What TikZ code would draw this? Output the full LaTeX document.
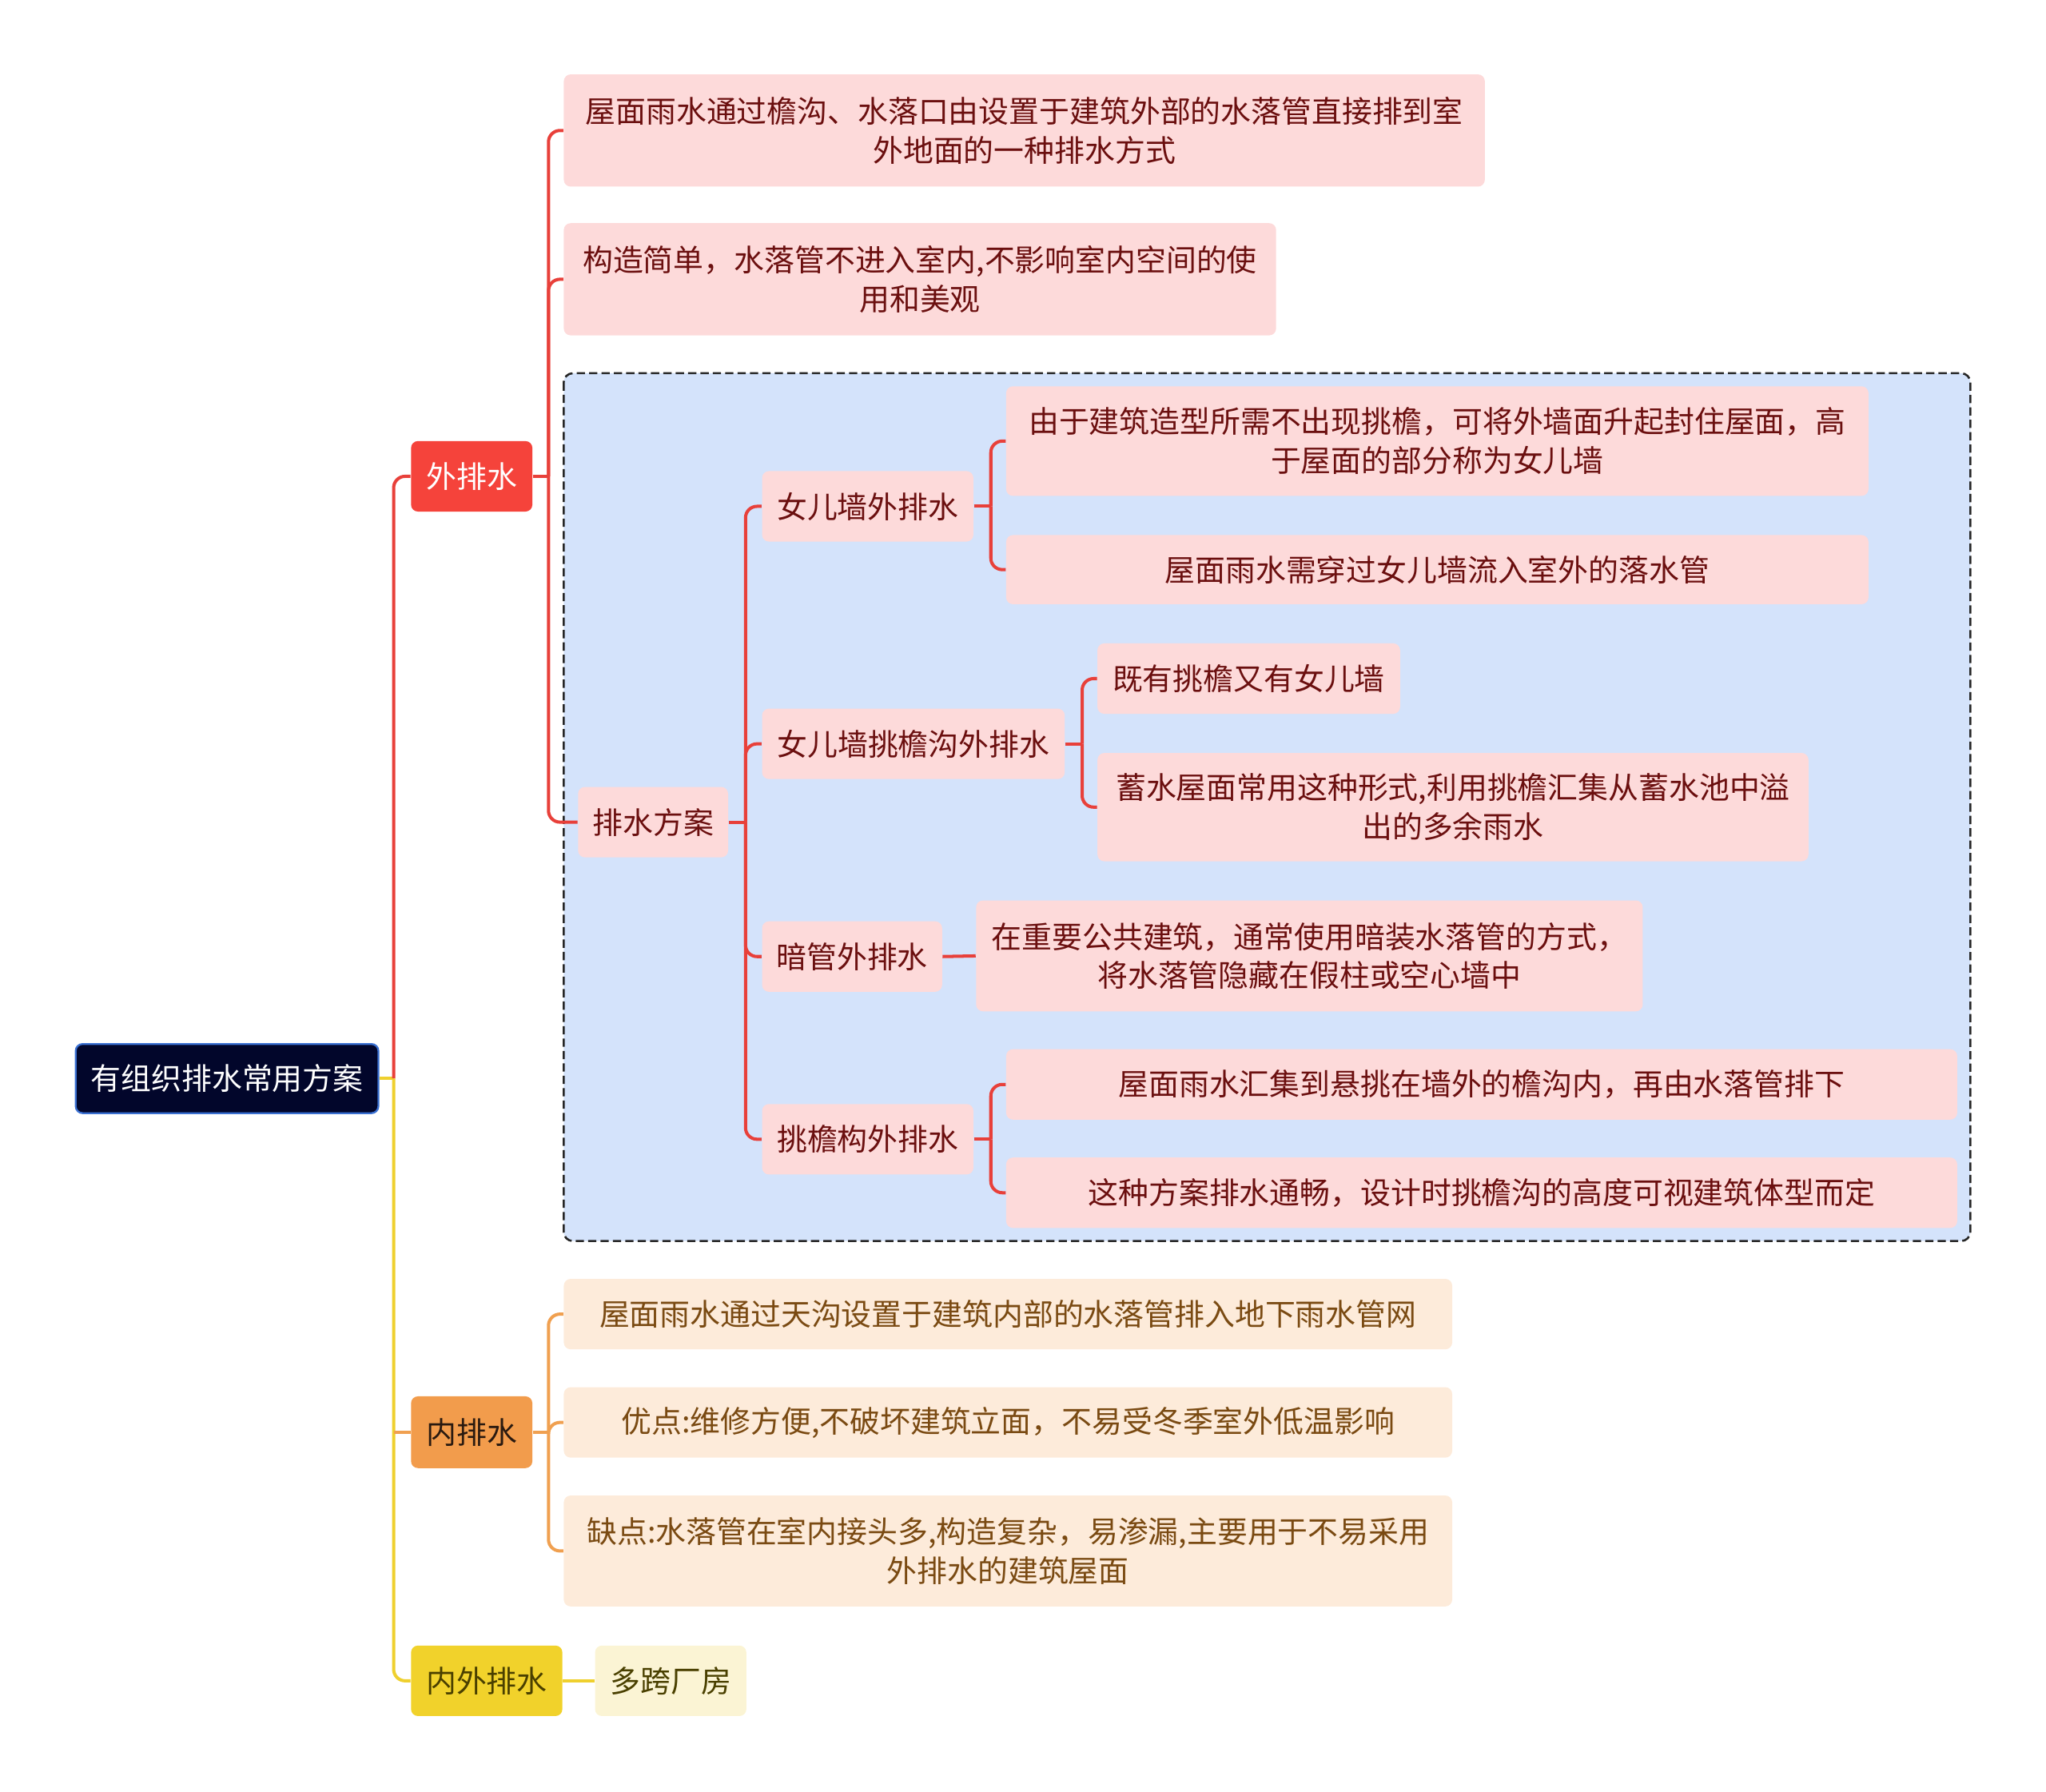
\documentclass[tikz,border=0pt]{standalone}
\usepackage{fontspec}
\setmainfont{Noto Sans CJK SC}
\definecolor{rootfill}{HTML}{02062B}
\definecolor{rootdraw}{HTML}{3A70D2}
\definecolor{redfill}{HTML}{F5433B}
\definecolor{orangefill}{HTML}{F29C4C}
\definecolor{yellowfill}{HTML}{F1D22B}
\definecolor{pinkfill}{HTML}{FDDADA}
\definecolor{peachfill}{HTML}{FDEBDA}
\definecolor{paleyellow}{HTML}{FBF4D4}
\definecolor{regionfill}{HTML}{D4E3FB}
\definecolor{redline}{HTML}{E8403A}
\definecolor{orangeline}{HTML}{F0A050}
\definecolor{yellowline}{HTML}{EFD02E}
\definecolor{redtext}{HTML}{6B0F0F}
\definecolor{browntext}{HTML}{7A4A12}
\definecolor{olivetext}{HTML}{4A4000}
\definecolor{darktext}{HTML}{2A1A10}
\tikzset{
  box/.style={rounded corners=3pt, inner sep=0pt, align=center, minimum height=1.08cm,
    font=\fontsize{13.2pt}{17pt}\selectfont},
  rootbox/.style={box, fill=rootfill, draw=rootdraw, line width=0.8pt, text=white},
  redbox/.style={box, fill=redfill, text=white},
  orangebox/.style={box, fill=orangefill, text=darktext},
  yellowbox/.style={box, fill=yellowfill, text=olivetext},
  pinkleaf/.style={box, fill=pinkfill, text=redtext},
  peachleaf/.style={box, fill=peachfill, text=browntext},
  paleleaf/.style={box, fill=paleyellow, text=olivetext},
  rline/.style={draw=redline, line width=1.4pt, rounded corners=5pt},
  oline/.style={draw=orangeline, line width=1.4pt, rounded corners=5pt},
  yline/.style={draw=yellowline, line width=1.4pt, rounded corners=5pt},
}
\begin{document}
\begin{tikzpicture}[x=0.02cm, y=-0.02cm]
\useasboundingbox (0,0) rectangle (1568,1373);
% dashed frame round the drainage schemes
\draw[fill=regionfill, draw=black!85, line width=0.9pt, dash pattern=on 3.6pt off 1.8pt, rounded corners=4pt]
  (432,286) rectangle (1510,951);

% root and first level
\node[rootbox, minimum width=4.64cm, minimum height=1.06cm] (root) at (174,826.5) {有组织排水常用方案};
\node[redbox, minimum width=1.86cm] (wai) at (361.5,365) {外排水};
\node[orangebox, minimum width=1.86cm, minimum height=1.1cm] (nei) at (361.5,1097.5) {内排水};
\node[yellowbox, minimum width=2.32cm] (neiwai) at (373,1288) {内外排水};

% outer drainage
\node[pinkleaf, minimum width=14.12cm, minimum height=1.72cm] (wdef) at (785,100)
  {屋面雨水通过檐沟、水落口由设置于建筑外部的水落管直接排到室\\外地面的一种排水方式};
\node[pinkleaf, minimum width=10.92cm, minimum height=1.72cm] (wadv) at (705,214)
  {构造简单，水落管不进入室内,不影响室内空间的使\\用和美观};
\node[pinkleaf, minimum width=2.3cm] (fangan) at (500.5,630) {排水方案};

\node[pinkleaf, minimum width=3.24cm] (nverq) at (665,388) {女儿墙外排水};
\node[pinkleaf, minimum width=4.64cm] (tiaogou) at (700,570) {女儿墙挑檐沟外排水};
\node[pinkleaf, minimum width=2.76cm] (anguan) at (653,733) {暗管外排水};
\node[pinkleaf, minimum width=3.24cm] (tiaoyan) at (665,873) {挑檐构外排水};

\node[pinkleaf, minimum width=13.22cm, minimum height=1.68cm] (nverqa) at (1101.5,338)
  {由于建筑造型所需不出现挑檐，可将外墙面升起封住屋面，高\\于屋面的部分称为女儿墙};
\node[pinkleaf, minimum width=13.22cm, minimum height=1.06cm] (nverqb) at (1101.5,436.5)
  {屋面雨水需穿过女儿墙流入室外的落水管};
\node[pinkleaf, minimum width=4.64cm] (tiaogoua) at (957,520) {既有挑檐又有女儿墙};
\node[pinkleaf, minimum width=10.9cm, minimum height=1.66cm] (tiaogoub) at (1113.5,618.5)
  {蓄水屋面常用这种形式,利用挑檐汇集从蓄水池中溢\\出的多余雨水};
\node[pinkleaf, minimum width=10.22cm, minimum height=1.7cm] (anguana) at (1003.5,732.5)
  {在重要公共建筑，通常使用暗装水落管的方式，\\将水落管隐藏在假柱或空心墙中};
\node[pinkleaf, minimum width=14.58cm] (tiaoyana) at (1135.5,831)
  {屋面雨水汇集到悬挑在墙外的檐沟内，再由水落管排下};
\node[pinkleaf, minimum width=14.58cm] (tiaoyanb) at (1135.5,914)
  {这种方案排水通畅，设计时挑檐沟的高度可视建筑体型而定};

% inner drainage
\node[peachleaf, minimum width=13.62cm] (ndef) at (772.5,1007)
  {屋面雨水通过天沟设置于建筑内部的水落管排入地下雨水管网};
\node[peachleaf, minimum width=13.62cm] (nadv) at (772.5,1090)
  {优点:维修方便,不破坏建筑立面，不易受冬季室外低温影响};
\node[peachleaf, minimum width=13.62cm, minimum height=1.7cm] (ndis) at (772.5,1188.5)
  {缺点:水落管在室内接头多,构造复杂，易渗漏,主要用于不易采用\\外排水的建筑屋面};

% mixed drainage
\node[paleleaf, minimum width=2.32cm] (changfang) at (514,1288) {多跨厂房};

% connectors
\draw[yline] (root.east) -- ++(11,0) coordinate (j0);
\draw[rline] (j0) |- (wai.west);
\draw[yline] (j0) |- (neiwai.west);
\draw[oline] (j0 |- nei.west) -- (nei.west);

\draw[rline] (wai.east) -- ++(12,0) coordinate (j1);
\foreach \n in {wdef,wadv,fangan} \draw[rline] (j1) |- (\n.west);

\draw[rline] (fangan.east) -- ++(13,0) coordinate (j2);
\foreach \n in {nverq,tiaogou,anguan,tiaoyan} \draw[rline] (j2) |- (\n.west);

\draw[rline] (nverq.east) -- ++(13,0) coordinate (j3);
\foreach \n in {nverqa,nverqb} \draw[rline] (j3) |- (\n.west);
\draw[rline] (tiaogou.east) -- ++(13,0) coordinate (j4);
\foreach \n in {tiaogoua,tiaogoub} \draw[rline] (j4) |- (\n.west);
\draw[rline] (anguan.east) -- (anguana.west);
\draw[rline] (tiaoyan.east) -- ++(13,0) coordinate (j5);
\foreach \n in {tiaoyana,tiaoyanb} \draw[rline] (j5) |- (\n.west);

\draw[oline] (nei.east) -- ++(12,0) coordinate (j6);
\foreach \n in {ndef,nadv,ndis} \draw[oline] (j6) |- (\n.west);

\draw[yline] (neiwai.east) -- (changfang.west);
\end{tikzpicture}
\end{document}
